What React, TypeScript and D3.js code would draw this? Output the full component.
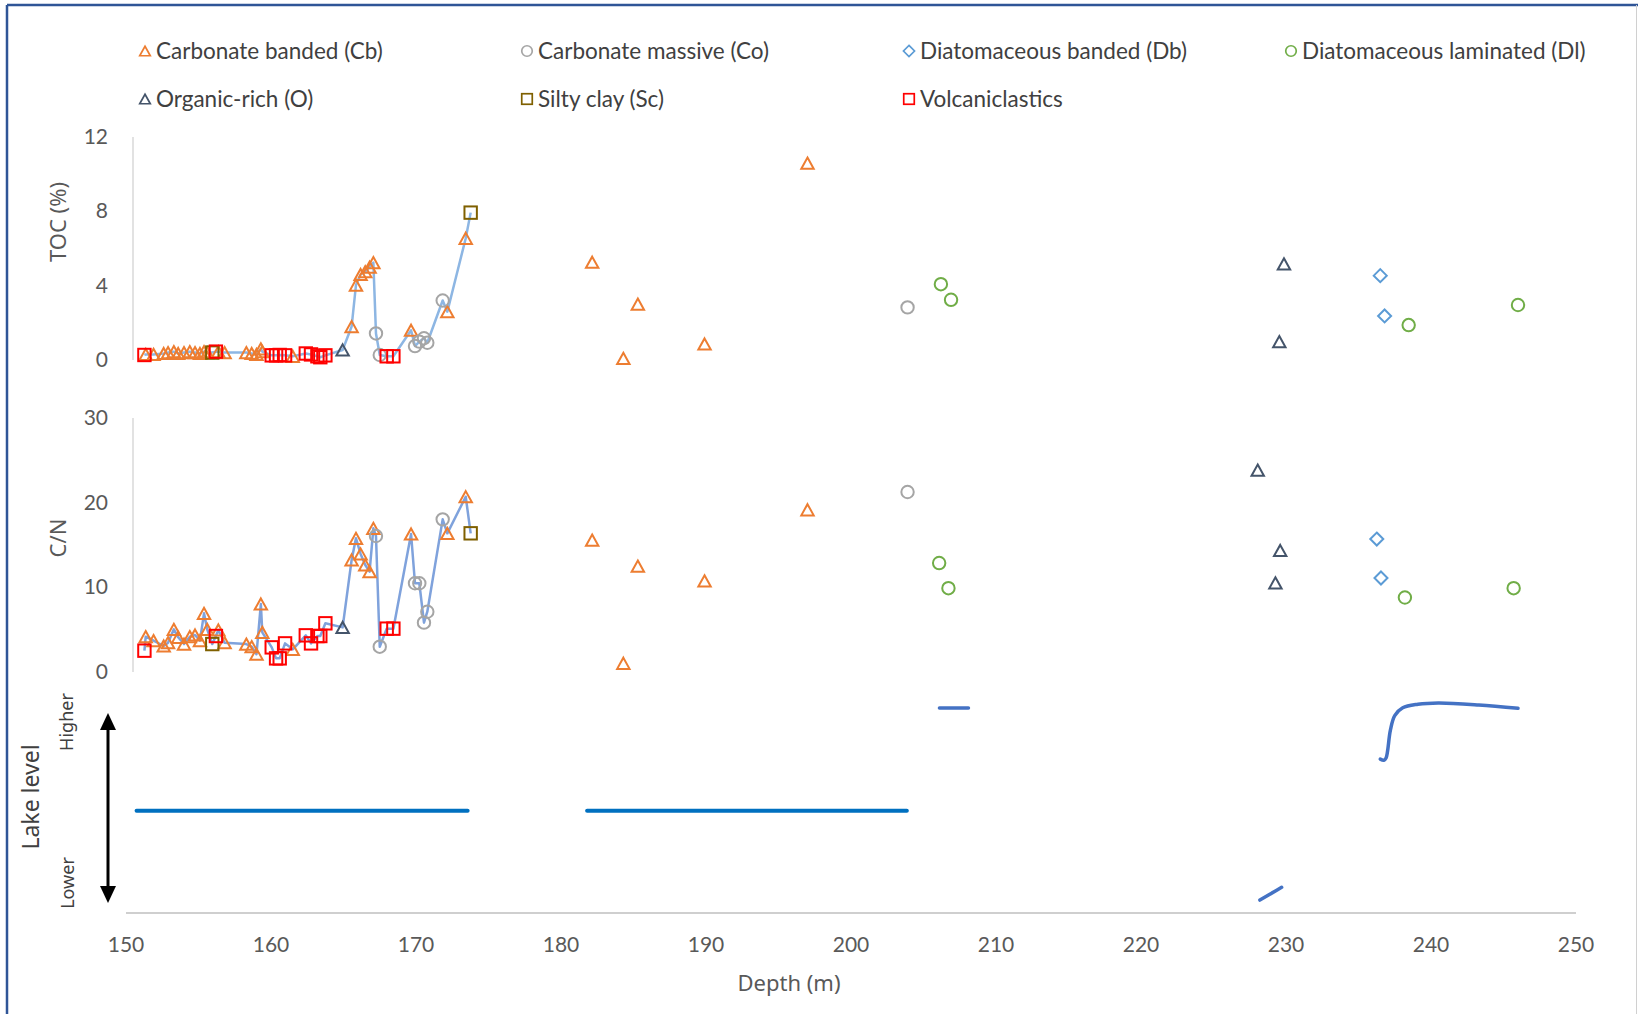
import React from "react";
import * as d3 from "d3";

// ---------- DATA ----------
// Carbonate banded (Cb): depth, TOC, C/N
const cbDepth = [151.36, 151.9, 152.6, 152.9, 153.3, 153.6, 154.0, 154.4, 154.76, 155.1, 155.38, 155.6, 156.37, 156.8, 158.3, 158.67, 159.0, 159.3, 159.4, 161.5, 165.56, 165.86, 166.18, 166.5, 166.8, 167.06, 169.66, 172.16, 173.43, 182.15, 184.3, 185.3, 189.9, 197.0];
const cbTOC = [0.3, 0.3, 0.35, 0.4, 0.45, 0.35, 0.4, 0.45, 0.4, 0.35, 0.45, 0.4, 0.45, 0.4, 0.4, 0.35, 0.3, 0.6, 0.45, 0.2, 1.8, 4.03, 4.6, 4.75, 5.0, 5.24, 1.6, 2.6, 6.55, 5.26, 0.09, 3.01, 0.86, 10.59];
const cbCN = [4.17, 3.7, 3.07, 3.46, 5.04, 4.1, 3.3, 4.17, 4.37, 3.7, 6.93, 5.04, 4.96, 3.46, 3.3, 3.0, 2.1, 8.03, 4.69, 2.68, 13.23, 15.79, 13.94, 12.64, 11.85, 16.97, 16.3, 16.38, 20.7, 15.58, 1.03, 12.5, 10.77, 19.16];

// Carbonate massive (Co)
const coDepth = [167.24, 167.5, 169.93, 170.23, 170.55, 170.78, 171.84, 203.9];
const coTOC = [1.43, 0.27, 0.75, 0.99, 1.17, 0.93, 3.2, 2.83];
const coCN = [16.06, 2.99, 10.48, 10.48, 5.83, 7.12, 18.03, 21.26];

// Diatomaceous banded (Db)
const dbTOCDepth = [236.5, 236.8];
const dbTOC = [4.54, 2.37];
const dbCNDepth = [236.26, 236.55];
const dbCN = [15.7, 11.1];

// Diatomaceous laminated (Dl)
const dlTOCDepth = [206.2, 206.9, 238.46, 246.0];
const dlTOC = [4.08, 3.24, 1.88, 2.96];
const dlCNDepth = [206.08, 206.72, 238.2, 245.7];
const dlCN = [12.87, 9.9, 8.8, 9.9];

// Organic-rich (O)
const oTOCDepth = [164.94, 229.54, 229.86];
const oTOC = [0.54, 0.99, 5.17];
const oCNDepth = [164.94, 228.05, 229.27, 229.6];
const oCN = [5.27, 23.85, 10.52, 14.35];

// Silty clay (Sc)
const scDepth = [155.95, 173.77];
const scTOC = [0.4, 7.93];
const scCN = [3.3, 16.38];

// Volcaniclastics
const vDepth = [151.27, 156.2, 160.05, 160.35, 160.6, 160.97, 162.4, 162.76, 163.2, 163.4, 163.75, 167.98, 168.44];
const vTOC = [0.27, 0.45, 0.25, 0.25, 0.27, 0.25, 0.35, 0.3, 0.2, 0.15, 0.25, 0.2, 0.2];
const vCN = [2.52, 4.25, 2.91, 1.61, 1.61, 3.38, 4.33, 3.38, 4.25, 4.25, 5.75, 5.12, 5.12];

// Lake level (relative units 0..10)
const lakeSegA: [number, number][] = [[150.73, 4.59], [173.56, 4.59]];
const lakeSegB: [number, number][] = [[181.8, 4.59], [203.85, 4.59]];
const lakeSegC: [number, number][] = [[206.1, 9.19], [208.1, 9.19]];
const lakeSegD: [number, number][] = [[228.2, 0.58], [229.3, 1.0], [229.7, 1.15]];
const lakeSegE: [number, number][] = [[236.5, 6.9], [236.75, 6.85], [236.9, 6.95], [237.2, 8.2], [237.5, 8.85], [238.05, 9.2], [239.1, 9.36], [240.5, 9.42], [243.3, 9.33], [246.0, 9.18]];

const xTicks = [150, 160, 170, 180, 190, 200, 210, 220, 230, 240, 250];
const tocTicks = [0, 4, 8, 12];
const cnTicks = [0, 10, 20, 30];

// ---------- STYLE ----------
const C = {
  cb: "#ED7D31",
  co: "#A5A5A5",
  db: "#5B9BD5",
  dl: "#70AD47",
  o: "#44546A",
  sc: "#7F6000",
  v: "#FF0000",
};
const tickFont = "Lato, 'Noto Sans', sans-serif";
const titleFont = "'Noto Sans', 'Open Sans', sans-serif";

type Shape = "tri" | "circle" | "diamond" | "square";

function Marker({ x, y, shape, color, s = 1 }: { x: number; y: number; shape: Shape; color: string; s?: number }) {
  const sw = 2 * s;
  if (shape === "tri") {
    const w = 6.2 * s, h = 5.6 * s;
    return <path d={`M${x},${y - h}L${x + w},${y + h}L${x - w},${y + h}Z`} fill="none" stroke={color} strokeWidth={sw} strokeLinejoin="miter" />;
  }
  if (shape === "circle") return <circle cx={x} cy={y} r={6.2 * s} fill="none" stroke={color} strokeWidth={sw} />;
  if (shape === "diamond") {
    const r = 6.5 * s;
    return <path d={`M${x},${y - r}L${x + r},${y}L${x},${y + r}L${x - r},${y}Z`} fill="none" stroke={color} strokeWidth={sw} />;
  }
  const h = 6.2 * s;
  return <rect x={x - h} y={y - h} width={2 * h} height={2 * h} fill="none" stroke={color} strokeWidth={sw} />;
}

export default function App() {
  const x = d3.scaleLinear().domain([150, 250]).range([126, 1576]);
  const yTOC = d3.scaleLinear().domain([0, 12]).range([360, 137]);
  const yCN = d3.scaleLinear().domain([0, 30]).range([672, 418]);
  const yLake = d3.scaleLinear().domain([0, 10]).range([913, 690]);

  type P = { d: number; v: number; shape: Shape; color: string };
  const zipP = (ds: number[], vs: number[], shape: Shape, color: string): P[] => ds.map((d, i) => ({ d, v: vs[i], shape, color }));

  const tocPts: P[] = [
    ...zipP(cbDepth, cbTOC, "tri", C.cb),
    ...zipP(coDepth, coTOC, "circle", C.co),
    ...zipP(dbTOCDepth, dbTOC, "diamond", C.db),
    ...zipP(dlTOCDepth, dlTOC, "circle", C.dl),
    ...zipP(oTOCDepth, oTOC, "tri", C.o),
    ...zipP(scDepth, scTOC, "square", C.sc),
    ...zipP(vDepth, vTOC, "square", C.v),
  ];
  const cnPts: P[] = [
    ...zipP(cbDepth, cbCN, "tri", C.cb),
    ...zipP(coDepth, coCN, "circle", C.co),
    ...zipP(dbCNDepth, dbCN, "diamond", C.db),
    ...zipP(dlCNDepth, dlCN, "circle", C.dl),
    ...zipP(oCNDepth, oCN, "tri", C.o),
    ...zipP(scDepth, scCN, "square", C.sc),
    ...zipP(vDepth, vCN, "square", C.v),
  ];

  const contTOC = tocPts.filter((p) => p.d < 175).sort((a, b) => a.d - b.d);
  const contCN = cnPts.filter((p) => p.d < 175).sort((a, b) => a.d - b.d);
  const lineTOC = d3.line<P>().x((p) => x(p.d)).y((p) => yTOC(p.v))(contTOC) || "";
  const lineCN = d3.line<P>().x((p) => x(p.d)).y((p) => yCN(p.v))(contCN) || "";

  const lakeLine = d3.line<[number, number]>().x((p) => x(p[0])).y((p) => yLake(p[1]));
  const lakeCurve = d3.line<[number, number]>().x((p) => x(p[0])).y((p) => yLake(p[1])).curve(d3.curveCatmullRom.alpha(0.5));

  const legendItems: { label: string; shape: Shape; color: string; mx: number; my: number }[] = [
    { label: "Carbonate banded (Cb)", shape: "tri", color: C.cb, mx: 145, my: 51 },
    { label: "Carbonate massive (Co)", shape: "circle", color: C.co, mx: 527, my: 51 },
    { label: "Diatomaceous banded (Db)", shape: "diamond", color: C.db, mx: 909, my: 51 },
    { label: "Diatomaceous laminated (Dl)", shape: "circle", color: C.dl, mx: 1291, my: 51 },
    { label: "Organic-rich (O)", shape: "tri", color: C.o, mx: 145, my: 99 },
    { label: "Silty clay (Sc)", shape: "square", color: C.sc, mx: 527, my: 99 },
    { label: "Volcaniclastics", shape: "square", color: C.v, mx: 909, my: 99 },
  ];

  return (
    <svg width={1638} height={1014} style={{ position: "absolute", left: 0, top: 0, background: "#fff" }}>
      <rect x={0} y={0} width={1638} height={1014} fill="#fff" />
      {/* frame */}
      <line x1={7} y1={5} x2={1638} y2={5} stroke="#2F5597" strokeWidth={2.5} />
      <line x1={7} y1={5} x2={7} y2={1014} stroke="#2F5597" strokeWidth={2.5} />
      <line x1={1636.5} y1={5} x2={1636.5} y2={1014} stroke="#D0D0D0" strokeWidth={1} />

      {/* legend */}
      {legendItems.map((it) => (
        <g key={it.label}>
          <Marker x={it.mx} y={it.my} shape={it.shape} color={it.color} s={0.85} />
          <text x={it.mx + 11} y={it.my + 7.5} fontFamily={tickFont} fontSize={22.5} fill="#404040">
            {it.label}
          </text>
        </g>
      ))}

      {/* TOC panel axis */}
      <line x1={133} y1={yTOC(12)} x2={133} y2={yTOC(0)} stroke="#D9D9D9" strokeWidth={1.5} />
      {tocTicks.map((t) => (
        <text key={"t" + t} x={108} y={yTOC(t) + 7} textAnchor="end" fontFamily={tickFont} fontSize={21} fill="#595959">
          {t}
        </text>
      ))}
      <text transform="translate(66,222) rotate(-90)" textAnchor="middle" fontFamily={titleFont} fontSize={22} fill="#595959">
        TOC (%)
      </text>

      {/* C/N panel axis */}
      <line x1={133} y1={yCN(30)} x2={133} y2={yCN(0)} stroke="#D9D9D9" strokeWidth={1.5} />
      {cnTicks.map((t) => (
        <text key={"c" + t} x={108} y={yCN(t) + 7} textAnchor="end" fontFamily={tickFont} fontSize={21} fill="#595959">
          {t}
        </text>
      ))}
      <text transform="translate(66,538) rotate(-90)" textAnchor="middle" fontFamily={titleFont} fontSize={22} fill="#595959">
        C/N
      </text>

      {/* connecting lines */}
      <path d={lineTOC} fill="none" stroke="#8DB6E3" strokeWidth={2.5} strokeLinejoin="round" />
      <path d={lineCN} fill="none" stroke="#7FA2DC" strokeWidth={2.5} strokeLinejoin="round" />

      {/* markers */}
      {tocPts.map((p, i) => (
        <Marker key={"tp" + i} x={x(p.d)} y={yTOC(p.v)} shape={p.shape} color={p.color} />
      ))}
      {cnPts.map((p, i) => (
        <Marker key={"cp" + i} x={x(p.d)} y={yCN(p.v)} shape={p.shape} color={p.color} />
      ))}

      {/* lake level panel */}
      <line x1={x(150)} y1={913} x2={x(250)} y2={913} stroke="#BFBFBF" strokeWidth={1.5} />
      {xTicks.map((t) => (
        <text key={"x" + t} x={x(t)} y={952} textAnchor="middle" fontFamily={tickFont} fontSize={21} fill="#595959">
          {t}
        </text>
      ))}
      <text x={789} y={991} textAnchor="middle" fontFamily={titleFont} fontSize={22} fill="#595959">
        Depth (m)
      </text>
      <path d={lakeLine(lakeSegA) || ""} fill="none" stroke="#0070C0" strokeWidth={4} strokeLinecap="round" />
      <path d={lakeLine(lakeSegB) || ""} fill="none" stroke="#0070C0" strokeWidth={4} strokeLinecap="round" />
      <path d={lakeLine(lakeSegC) || ""} fill="none" stroke="#4472C4" strokeWidth={3.5} strokeLinecap="round" />
      <path d={lakeCurve(lakeSegD) || ""} fill="none" stroke="#4472C4" strokeWidth={3.5} strokeLinecap="round" />
      <path d={lakeCurve(lakeSegE) || ""} fill="none" stroke="#4472C4" strokeWidth={3.5} strokeLinecap="round" />

      {/* arrow */}
      <line x1={108} y1={728} x2={108} y2={888} stroke="#000" strokeWidth={3} />
      <path d="M108,713L116,730L100,730Z" fill="#000" />
      <path d="M108,903L116,886L100,886Z" fill="#000" />
      <text transform="translate(39,797) rotate(-90)" textAnchor="middle" fontFamily={titleFont} fontSize={23} fill="#404040">
        Lake level
      </text>
      <text transform="translate(73,722) rotate(-90)" textAnchor="middle" fontFamily={titleFont} fontSize={18} fill="#404040">
        Higher
      </text>
      <text transform="translate(74,883) rotate(-90)" textAnchor="middle" fontFamily={titleFont} fontSize={18} fill="#404040">
        Lower
      </text>
    </svg>
  );
}
